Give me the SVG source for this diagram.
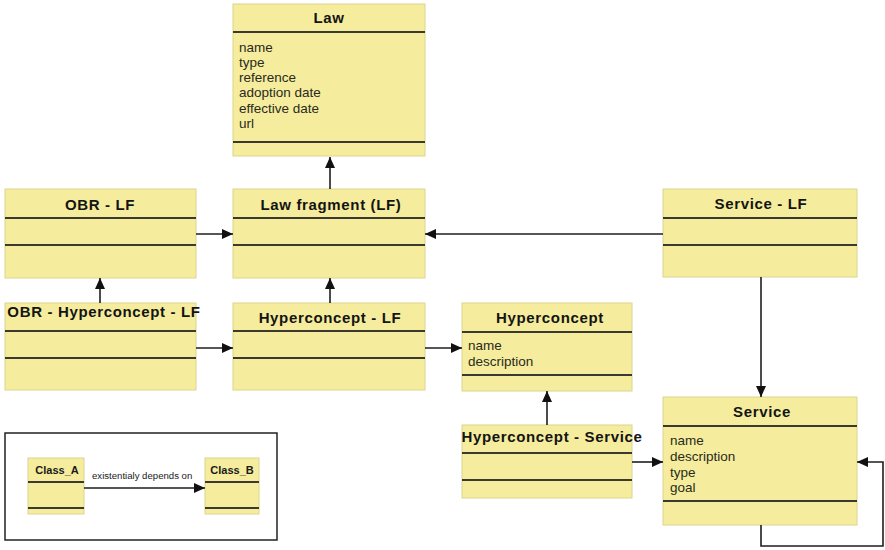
<svg xmlns="http://www.w3.org/2000/svg" width="885" height="550" viewBox="0 0 885 550">
  <style>
    .box { fill: #f5ed9d; stroke: #dcd48e; stroke-width: 1; }
    .sep { stroke: #3a3a30; stroke-width: 2; }
    .title { font-family: "Liberation Sans", Arial, sans-serif; font-weight: bold; font-size: 15px; letter-spacing: 0.65px; fill: #141414; text-anchor: middle; }
    .attr { font-family: "Liberation Sans", Arial, sans-serif; font-size: 13.5px; fill: #2a2a20; }
    .edge { fill: none; stroke: #1e1e1e; stroke-width: 1.6; marker-end: url(#arrow); }
    .ltitle { font-family: "Liberation Sans", Arial, sans-serif; font-weight: bold; font-size: 11px; fill: #1a1a1a; text-anchor: middle; }
    .lbl { font-family: "Liberation Sans", Arial, sans-serif; font-size: 9.6px; fill: #1a1a1a; }
  </style>
  <defs>
    <marker id="arrow" markerUnits="userSpaceOnUse" markerWidth="12" markerHeight="12" refX="11" refY="6" orient="auto">
      <path d="M0,1 L11,6 L0,11 z" fill="#111"/>
    </marker>
  </defs>

  <rect width="885" height="550" fill="#ffffff"/>

  <!-- Law -->
  <g id="law">
    <rect class="box" x="233" y="4" width="192" height="152"/>
    <text class="title" x="329" y="23">Law</text>
    <line class="sep" x1="233" y1="32" x2="425" y2="32"/>
    <text class="attr" x="239" y="52">name</text>
    <text class="attr" x="239" y="67">type</text>
    <text class="attr" x="239" y="82">reference</text>
    <text class="attr" x="239" y="97">adoption date</text>
    <text class="attr" x="239" y="113">effective date</text>
    <text class="attr" x="239" y="128">url</text>
    <line class="sep" x1="233" y1="142" x2="425" y2="142"/>
  </g>

  <!-- OBR - LF -->
  <g id="obr-lf">
    <rect class="box" x="5" y="189" width="191" height="89"/>
    <text class="title" x="100" y="210">OBR - LF</text>
    <line class="sep" x1="5" y1="218" x2="196" y2="218"/>
    <line class="sep" x1="5" y1="245" x2="196" y2="245"/>
  </g>

  <!-- Law fragment (LF) -->
  <g id="law-fragment">
    <rect class="box" x="233" y="189" width="192" height="89"/>
    <text class="title" x="331" y="210">Law fragment (LF)</text>
    <line class="sep" x1="233" y1="218" x2="425" y2="218"/>
    <line class="sep" x1="233" y1="245" x2="425" y2="245"/>
  </g>

  <!-- Service - LF -->
  <g id="service-lf">
    <rect class="box" x="663" y="189" width="194" height="88"/>
    <text class="title" x="761" y="209">Service - LF</text>
    <line class="sep" x1="663" y1="218" x2="857" y2="218"/>
    <line class="sep" x1="663" y1="245" x2="857" y2="245"/>
  </g>

  <!-- OBR - Hyperconcept - LF -->
  <g id="obr-hyperconcept-lf">
    <rect class="box" x="5" y="303" width="191" height="87"/>
    <text class="title" x="104" y="317">OBR - Hyperconcept - LF</text>
    <line class="sep" x1="5" y1="331" x2="196" y2="331"/>
    <line class="sep" x1="5" y1="358" x2="196" y2="358"/>
  </g>

  <!-- Hyperconcept - LF -->
  <g id="hyperconcept-lf">
    <rect class="box" x="233" y="303" width="192" height="87"/>
    <text class="title" x="330" y="323">Hyperconcept - LF</text>
    <line class="sep" x1="233" y1="331" x2="425" y2="331"/>
    <line class="sep" x1="233" y1="358" x2="425" y2="358"/>
  </g>

  <!-- Hyperconcept -->
  <g id="hyperconcept">
    <rect class="box" x="462" y="303" width="170" height="88"/>
    <text class="title" x="550" y="323">Hyperconcept</text>
    <line class="sep" x1="462" y1="332" x2="632" y2="332"/>
    <text class="attr" x="468" y="350">name</text>
    <text class="attr" x="468" y="366">description</text>
    <line class="sep" x1="462" y1="375" x2="632" y2="375"/>
  </g>

  <!-- Hyperconcept - Service -->
  <g id="hyperconcept-service">
    <rect class="box" x="462" y="425" width="170" height="73"/>
    <text class="title" x="552" y="442">Hyperconcept - Service</text>
    <line class="sep" x1="462" y1="453" x2="632" y2="453"/>
    <line class="sep" x1="462" y1="480" x2="632" y2="480"/>
  </g>

  <!-- Service -->
  <g id="service">
    <rect class="box" x="663" y="397" width="194" height="128"/>
    <text class="title" x="762" y="417">Service</text>
    <line class="sep" x1="663" y1="426" x2="857" y2="426"/>
    <text class="attr" x="670" y="445">name</text>
    <text class="attr" x="670" y="461">description</text>
    <text class="attr" x="670" y="477">type</text>
    <text class="attr" x="670" y="492">goal</text>
    <line class="sep" x1="663" y1="501" x2="857" y2="501"/>
  </g>

  <!-- Dependencies -->
  <g id="connectors">
    <line class="edge" x1="330" y1="189" x2="330" y2="157"/>
    <line class="edge" x1="196" y1="234" x2="233" y2="234"/>
    <line class="edge" x1="663" y1="234" x2="425" y2="234"/>
    <line class="edge" x1="100" y1="303" x2="100" y2="278"/>
    <line class="edge" x1="330" y1="303" x2="330" y2="278"/>
    <line class="edge" x1="196" y1="348" x2="233" y2="348"/>
    <line class="edge" x1="425" y1="348" x2="462" y2="348"/>
    <line class="edge" x1="547" y1="425" x2="547" y2="391"/>
    <line class="edge" x1="632" y1="462" x2="663" y2="462"/>
    <line class="edge" x1="761" y1="277" x2="761" y2="397"/>
    <polyline class="edge" points="761,525 761,546 883,546 883,462 857,462"/>
  </g>

  <!-- Legend -->
  <g id="legend">
    <rect x="5" y="433" width="272" height="107" fill="#ffffff" stroke="#222" stroke-width="1.5"/>
    <g id="class-a">
      <rect class="box" x="28" y="458" width="56" height="56"/>
      <text class="ltitle" x="57" y="474">Class_A</text>
      <line class="sep" x1="28" y1="482" x2="84" y2="482"/>
      <line class="sep" x1="28" y1="508" x2="84" y2="508"/>
    </g>
    <g id="class-b">
      <rect class="box" x="205" y="458" width="54" height="56"/>
      <text class="ltitle" x="232" y="474">Class_B</text>
      <line class="sep" x1="205" y1="482" x2="259" y2="482"/>
      <line class="sep" x1="205" y1="508" x2="259" y2="508"/>
    </g>
    <line class="edge" x1="84" y1="488" x2="205" y2="488"/>
    <text class="lbl" x="92" y="479">existentialy depends on</text>
  </g>
</svg>
